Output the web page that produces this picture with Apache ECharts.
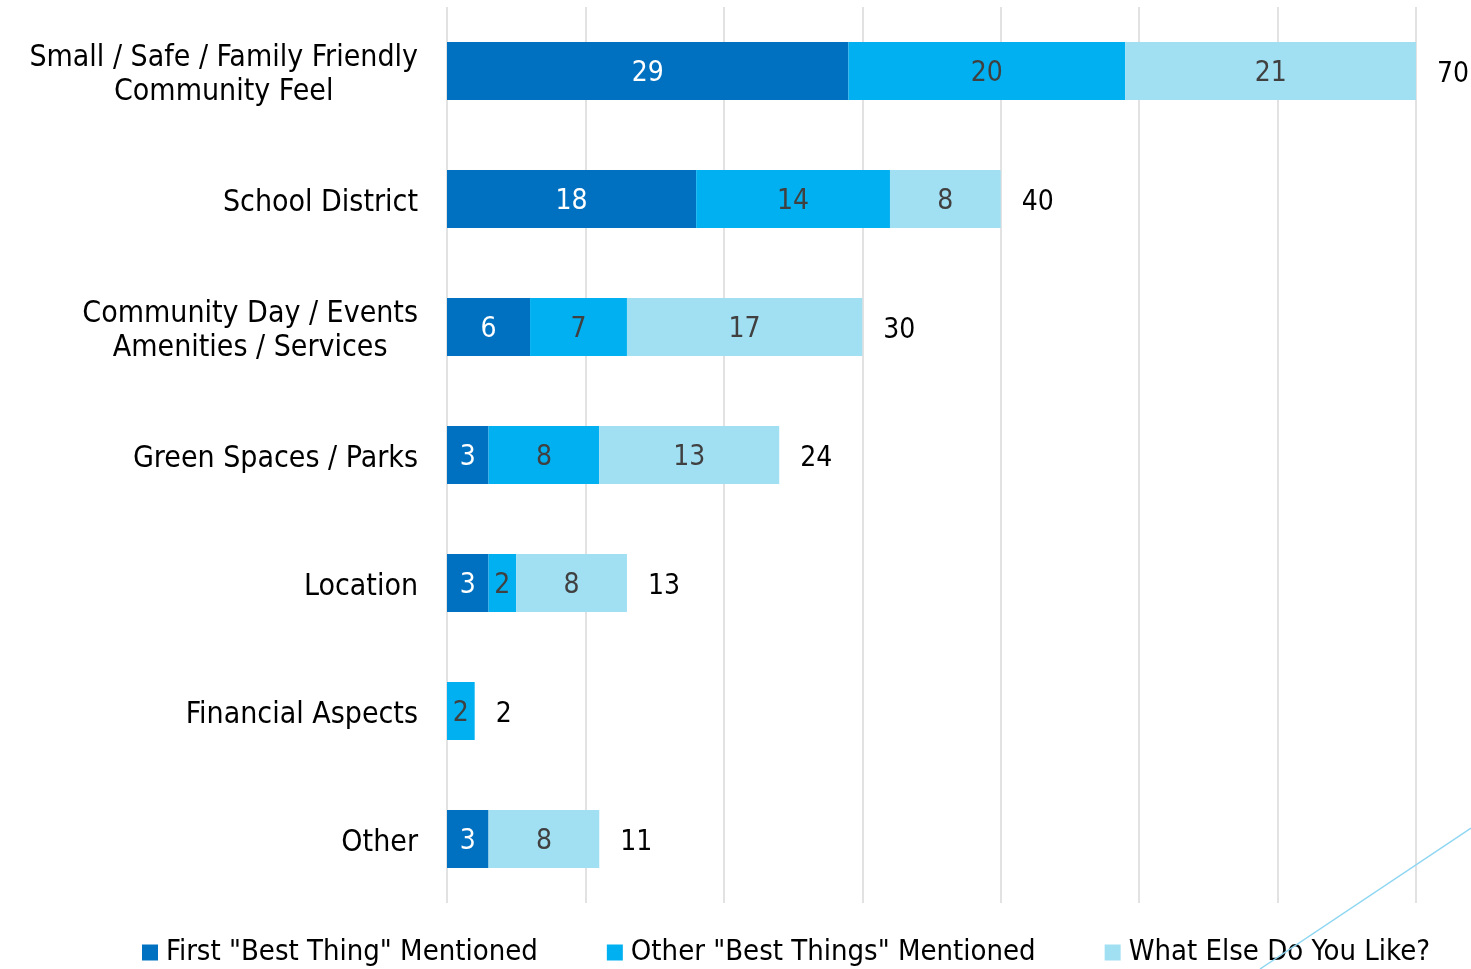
<!DOCTYPE html>
<html>
<head>
<meta charset="utf-8">
<script src="https://cdn.jsdelivr.net/npm/echarts@6/dist/echarts.min.js"></script>
<style>
html,body{margin:0;padding:0;background:#fff;}
#chart{width:1471px;height:969px;}
</style>
</head>
<body>
<div id="chart"></div>
<script>
const categories = [
  'Small / Safe / Family Friendly\nCommunity Feel',
  'School District',
  'Community Day / Events\nAmenities / Services',
  'Green Spaces / Parks',
  'Location',
  'Financial Aspects',
  'Other'
];
const seriesNames = ['First "Best Thing" Mentioned', 'Other "Best Things" Mentioned', 'What Else Do You Like?'];
const firstBest = [29, 18, 6, 3, 3, 0, 3];
const otherBest = [20, 14, 7, 8, 2, 2, 0];
const whatElse = [21, 8, 17, 13, 8, 0, 8];
const totals = [70, 40, 30, 24, 13, 2, 11];
const xTicks = [0, 10, 20, 30, 40, 50, 60, 70];

const FONT = '"DejaVu Sans Condensed", "Liberation Sans Narrow", "DejaVu Sans", sans-serif';
const FS = 30;
const NFS = 28;
const colors = ['#0070C0', '#00B0F0', '#A1DFF3'];
const labelColors = ['#ffffff', '#404040', '#404040'];
const values = [firstBest, otherBest, whatElse];

const chart = echarts.init(document.getElementById('chart'), null, {renderer: 'canvas'});

const barSeries = values.map((arr, i) => ({
  name: seriesNames[i],
  type: 'bar',
  stack: 'total',
  barWidth: 58,
  data: arr,
  itemStyle: {color: colors[i]},
  label: {
    show: true,
    position: 'inside',
    offset: [0, 3],
    color: labelColors[i],
    fontFamily: FONT,
    fontSize: NFS,
    formatter: p => (p.value ? String(p.value) : '')
  }
}));

barSeries.push({
  name: 'Total',
  type: 'bar',
  stack: 'total',
  barWidth: 58,
  data: totals.map(() => 0),
  itemStyle: {color: 'transparent'},
  label: {
    show: true,
    position: 'right',
    distance: 21,
    offset: [0, 4],
    color: '#000000',
    fontFamily: FONT,
    fontSize: NFS,
    formatter: p => String(totals[p.dataIndex])
  },
  silent: true
});

chart.setOption({
  animation: false,
  backgroundColor: '#ffffff',
  grid: {left: 447, right: 55, top: 7, bottom: 66, containLabel: false},
  xAxis: {
    type: 'value',
    min: xTicks[0],
    max: xTicks[xTicks.length - 1],
    interval: 10,
    axisLabel: {show: false},
    axisLine: {show: false},
    axisTick: {show: false},
    splitLine: {show: true, lineStyle: {color: '#D9D9D9', width: 1.5}}
  },
  yAxis: {
    type: 'category',
    inverse: true,
    data: categories,
    axisLine: {show: false},
    axisTick: {show: false},
    axisLabel: {
      margin: 29,
      fontFamily: FONT,
      fontSize: FS,
      color: '#000000',
      lineHeight: 34,
      formatter: v => v.split('\n').map(l => '{c|' + l + '}').join('\n'),
      rich: {c: {align: 'center', fontFamily: FONT, fontSize: FS, color: '#000000', lineHeight: 34, padding: [8, 0, 0, 0]}}
    }
  },
  legend: {
    data: seriesNames,
    left: 137,
    top: 933,
    icon: 'rect',
    itemWidth: 16,
    itemHeight: 16,
    itemGap: 69,
    textStyle: {fontFamily: FONT, fontSize: 29, color: '#000000', padding: [4, 0, 0, 3]}
  },
  graphic: [{
    type: 'line',
    z: 100,
    shape: {x1: 1260, y1: 969, x2: 1471, y2: 828},
    style: {stroke: '#8FD6F2', lineWidth: 1.5}
  }],
  series: barSeries
});
</script>
</body>
</html>
